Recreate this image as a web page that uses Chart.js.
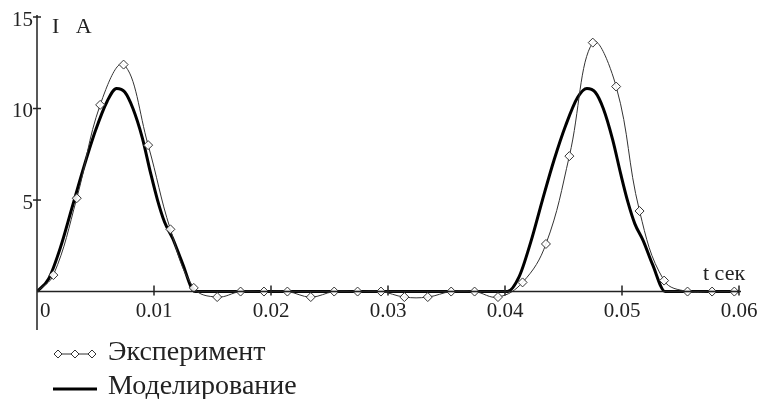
<!DOCTYPE html>
<html>
<head>
<meta charset="utf-8">
<script src="https://cdn.jsdelivr.net/npm/chart.js@4.4.0/dist/chart.umd.min.js"></script>
<style>
    html, body { margin: 0; padding: 0; background: #fff; }
    #wrap { position: relative; width: 779px; height: 399px; overflow: hidden; }
    #chart { position: absolute; left: 0; top: 0; }
    .leg { position: absolute; left: 52px; font-family: "Liberation Serif", serif; font-size: 28px; color: #222; white-space: nowrap; }
    .leg svg { vertical-align: middle; margin-right: 10px; }
</style>
</head>
<body>
<div id="wrap">
    <canvas id="chart" width="779" height="399"></canvas>
    <div class="leg" style="top: 335px;">
        <svg width="46" height="12"><line x1="2" y1="6" x2="44" y2="6" stroke="#333" stroke-width="1"/>
            <path d="M6 2 L10 6 L6 10 L2 6 Z M23 2 L27 6 L23 10 L19 6 Z M40 2 L44 6 L40 10 L36 6 Z" fill="#fff" stroke="#333" stroke-width="1"/></svg>Эксперимент
    </div>
    <div class="leg" style="top: 369px;">
        <svg width="46" height="12"><line x1="1" y1="7" x2="45" y2="7" stroke="#000" stroke-width="3"/></svg>Моделирование
    </div>
</div>
<script>
// Эксперимент: ток, снятый осциллографом
const expT = [0, 0.0014, 0.0034, 0.0054, 0.0074, 0.0095, 0.0114, 0.0134, 0.0154, 0.0174,
    0.0194, 0.0214, 0.0234, 0.0254, 0.0274, 0.0294, 0.0314, 0.0334, 0.0354, 0.0374,
    0.0394, 0.0415, 0.0435, 0.0455, 0.0475, 0.0495, 0.0515, 0.0536, 0.0556, 0.0577, 0.0596];
const expI = [0, 0.9, 5.1, 10.2, 12.4, 8.0, 3.4, 0.2, -0.3, 0,
    0, 0, -0.3, 0, 0, 0, -0.3, -0.3, 0, 0,
    -0.3, 0.5, 2.6, 7.4, 13.6, 11.2, 4.4, 0.6, 0, 0, 0];

// Моделирование
const modelT = [0, 0.001, 0.002, 0.003, 0.004, 0.005, 0.006, 0.0068, 0.0075, 0.0082,
    0.009, 0.0097, 0.0103, 0.0109, 0.0116, 0.0124, 0.0135,
    0.0402, 0.0412, 0.0422, 0.0432, 0.0442, 0.0452, 0.0462, 0.0470, 0.0477, 0.0484,
    0.0492, 0.0499, 0.0505, 0.0511, 0.0518, 0.0526, 0.0537, 0.06];
const modelI = [0, 0.7, 2.4, 4.6, 6.8, 8.8, 10.4, 11.1, 10.9, 10.0,
    8.4, 6.5, 5.0, 3.8, 2.9, 1.6, 0,
    0, 0.8, 2.7, 5.0, 7.2, 9.1, 10.6, 11.1, 10.9, 10.0,
    8.3, 6.4, 4.9, 3.7, 2.8, 1.5, 0, 0];

// Подписи осей
const xTicks = [0, 0.01, 0.02, 0.03, 0.04, 0.05, 0.06];
const xTickLabels = ['0', '0.01', '0.02', '0.03', '0.04', '0.05', '0.06'];
const yTicks = [5, 10, 15];
const yTickLabels = ['5', '10', '15'];

const FONT = '"Liberation Serif", serif';
const INK = '#222';

// Оси в стиле Mathcad: пересекаются в нуле
const crossAxes = {
    id: 'crossAxes',
    afterDatasetsDraw(chart) {
        const { ctx, scales: { x, y } } = chart;
        const x0 = x.getPixelForValue(0);
        const y0 = y.getPixelForValue(0);
        ctx.save();
        ctx.strokeStyle = INK;
        ctx.fillStyle = INK;
        ctx.lineWidth = 1.5;

        ctx.beginPath();
        ctx.moveTo(x0, y.getPixelForValue(15) - 2);
        ctx.lineTo(x0, chart.chartArea.bottom);
        ctx.moveTo(x0, y0);
        ctx.lineTo(x.getPixelForValue(0.06) + 2, y0);
        ctx.stroke();

        ctx.font = '21px ' + FONT;
        ctx.textBaseline = 'middle';

        xTicks.forEach((t, i) => {
            const px = x.getPixelForValue(t);
            if (t > 0) {
                ctx.beginPath();
                ctx.moveTo(px, y0 - 6);
                ctx.lineTo(px, y0 + 4);
                ctx.stroke();
            }
            ctx.textAlign = t === 0 ? 'left' : 'center';
            ctx.fillText(xTickLabels[i], t === 0 ? px + 3 : px, y0 + 20);
        });

        yTicks.forEach((v, i) => {
            const py = y.getPixelForValue(v);
            ctx.beginPath();
            ctx.moveTo(x0 - 4, py);
            ctx.lineTo(x0 + 4, py);
            ctx.stroke();
            ctx.textAlign = 'right';
            ctx.fillText(yTickLabels[i], x0 - 4, py + 3);
        });

        ctx.font = '22px ' + FONT;
        ctx.textAlign = 'left';
        ctx.textBaseline = 'alphabetic';
        ctx.fillText('I   A', x0 + 15, y.getPixelForValue(15) + 16);
        ctx.fillText('t сек', x.getPixelForValue(0.06) - 36, y0 - 12);
        ctx.restore();
    }
};

const toPoints = (ts, vs) => ts.map((t, i) => ({ x: t, y: vs[i] }));

new Chart(document.getElementById('chart'), {
    type: 'line',
    data: {
        datasets: [
            {
                label: 'Эксперимент',
                data: toPoints(expT, expI),
                borderColor: '#333',
                borderWidth: 1,
                tension: 0.4,
                pointStyle: 'rectRot',
                pointRadius: (c) => c.dataIndex === 0 ? 0 : 4.5,
                pointBackgroundColor: 'rgba(255,255,255,0.9)',
                pointBorderColor: '#333',
                pointBorderWidth: 1
            },
            {
                label: 'Моделирование',
                data: toPoints(modelT, modelI),
                borderColor: '#000',
                borderWidth: 3,
                cubicInterpolationMode: 'monotone',
                pointRadius: 0
            }
        ]
    },
    options: {
        responsive: false,
        animation: false,
        layout: { padding: { left: 37, right: 40, top: 17, bottom: 69 } },
        scales: {
            x: { type: 'linear', min: 0, max: 0.06, display: false },
            y: { type: 'linear', min: -2.1, max: 15, display: false }
        },
        plugins: {
            legend: { display: false },
            tooltip: { enabled: false }
        }
    },
    plugins: [crossAxes]
});
</script>
</body>
</html>
